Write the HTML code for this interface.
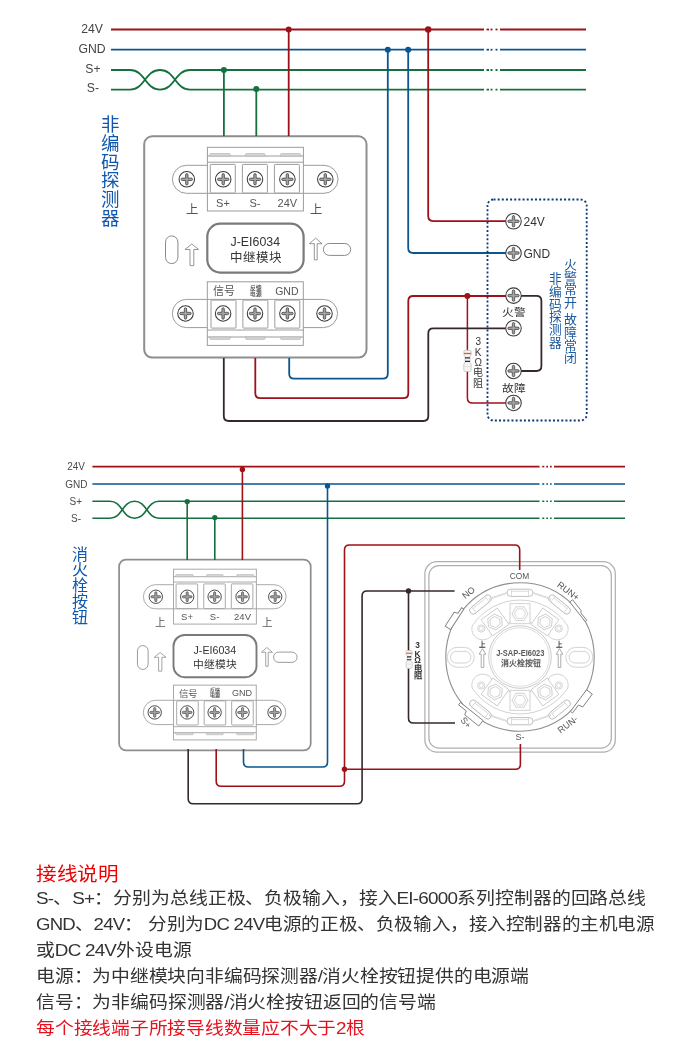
<!DOCTYPE html><html lang="zh-CN"><head><meta charset="utf-8"><style>
html,body{margin:0;padding:0;background:#fff;width:680px;height:1064px;overflow:hidden}
svg{display:block;font-family:"Liberation Sans",sans-serif}
svg,.t{will-change:transform}
.t{position:absolute;left:36px;transform-origin:0 0;white-space:nowrap;font-family:"Liberation Sans",sans-serif;font-size:18px;color:#333}
.L{font-size:17px;letter-spacing:-0.7px}
</style></head><body>
<svg width="680" height="1064" viewBox="0 0 680 1064">
<defs>
<g id="sc"><circle r="7.75" fill="#fff" stroke="#3a3a3a" stroke-width="1.05"/><path d="M-4.5,-1.2 H-1.2 V-4.5 A1.2,1.2 0 0 1 1.2,-4.5 V-1.2 H4.5 A1.2,1.2 0 0 1 4.5,1.2 H1.2 V4.5 A1.2,1.2 0 0 1 -1.2,4.5 V1.2 H-4.5 A1.2,1.2 0 0 1 -4.5,-1.2 Z" fill="#a4a4a4" stroke="#3c3c3c" stroke-width="0.75"/></g>
<g id="mod"><rect x="144.2" y="136.3" width="222.3" height="221.3" rx="8" fill="#fff" stroke="#8e8e8e" stroke-width="2"/>
<rect x="172.4" y="165.3" width="165.6" height="28" rx="14" fill="#fff" stroke="#9c9c9c" stroke-width="1"/>
<rect x="207.4" y="147.3" width="96" height="63.7" fill="#fff" stroke="#9c9c9c" stroke-width="1"/>
<path d="M207.4,156 H303.4 M207.4,162.2 H303.4 M207.4,193.3 H303.4" stroke="#9c9c9c" stroke-width="1" fill="none"/>
<path d="M209.3,156 L210.3,153.5 H229.7 L230.7,156 Z" fill="#d6d6d6" stroke="#b0b0b0" stroke-width="0.6"/>
<path d="M245,156 L246,153.5 H264.5 L265.5,156 Z" fill="#d6d6d6" stroke="#b0b0b0" stroke-width="0.6"/>
<path d="M280,156 L281,153.5 H300 L301,156 Z" fill="#d6d6d6" stroke="#b0b0b0" stroke-width="0.6"/>
<rect x="210.3" y="164.4" width="25" height="28.6" rx="0.8" fill="#fff" stroke="#9c9c9c" stroke-width="1"/>
<rect x="242.4" y="164.4" width="25" height="28.6" rx="0.8" fill="#fff" stroke="#9c9c9c" stroke-width="1"/>
<rect x="274.4" y="164.4" width="25" height="28.6" rx="0.8" fill="#fff" stroke="#9c9c9c" stroke-width="1"/>
<use href="#sc" x="186.8" y="179.3"/>
<use href="#sc" x="223.2" y="179.3"/>
<use href="#sc" x="255" y="179.3"/>
<use href="#sc" x="287.4" y="179.3"/>
<use href="#sc" x="325.3" y="179.3"/>
<g font-size="11" fill="#555" text-anchor="middle"><text x="223" y="206.5">S+</text><text x="255" y="206.5">S-</text><text x="287.4" y="206.5">24V</text></g>
<g font-size="12.3" fill="#555" text-anchor="middle"><text x="192" y="213.6">上</text><text x="315.8" y="213.6">上</text></g>
<rect x="165.5" y="235.9" width="12.4" height="27.7" rx="6.2" fill="none" stroke="#8a8a8a" stroke-width="1"/>
<path d="M191.8,244 L198.6,249.5 H193.8 V265.6 H190 V249.5 H185 Z" fill="none" stroke="#8a8a8a" stroke-width="0.9" stroke-linejoin="miter"/>
<rect x="207.3" y="223.6" width="96.3" height="49" rx="13" fill="#fff" stroke="#7a7a7a" stroke-width="2.2"/>
<text x="255.3" y="246.1" font-size="12" fill="#333" text-anchor="middle" textLength="49.5" lengthAdjust="spacingAndGlyphs">J-EI6034</text>
<text x="255.5" y="262.4" font-size="12.5" fill="#333" text-anchor="middle">中继模块</text>
<path d="M315.7,238.2 L322,243.7 H317.2 V259.9 H314.3 V243.7 H309.3 Z" fill="none" stroke="#8a8a8a" stroke-width="0.9"/>
<rect x="323.4" y="243.5" width="27.3" height="11.9" rx="5.95" fill="none" stroke="#8a8a8a" stroke-width="1"/>
<rect x="172.3" y="299.4" width="165.3" height="28.2" rx="14.1" fill="#fff" stroke="#9c9c9c" stroke-width="1"/>
<rect x="207.3" y="281.8" width="96" height="63.6" fill="#fff" stroke="#9c9c9c" stroke-width="1"/>
<path d="M207.3,299.4 H303.3 M207.3,330 H303.3 M207.3,337 H303.3" stroke="#9c9c9c" stroke-width="1" fill="none"/>
<path d="M209.3,337 L210.3,339.4 H229.7 L230.7,337 Z" fill="#d6d6d6" stroke="#b0b0b0" stroke-width="0.6"/>
<path d="M245,337 L246,339.4 H264.5 L265.5,337 Z" fill="#d6d6d6" stroke="#b0b0b0" stroke-width="0.6"/>
<path d="M280,337 L281,339.4 H300 L301,337 Z" fill="#d6d6d6" stroke="#b0b0b0" stroke-width="0.6"/>
<rect x="211" y="300.1" width="25" height="28" rx="0.8" fill="#fff" stroke="#9c9c9c" stroke-width="1"/>
<rect x="242.9" y="300.1" width="25" height="28" rx="0.8" fill="#fff" stroke="#9c9c9c" stroke-width="1"/>
<rect x="274.8" y="300.1" width="25" height="28" rx="0.8" fill="#fff" stroke="#9c9c9c" stroke-width="1"/>
<use href="#sc" x="185.5" y="313.5"/>
<use href="#sc" x="223.1" y="313.5"/>
<use href="#sc" x="255" y="313.5"/>
<use href="#sc" x="287.4" y="313.5"/>
<use href="#sc" x="324.5" y="313.5"/>
<text x="224" y="295.3" font-size="11" fill="#555" text-anchor="middle">信号</text>
<g font-size="11" font-weight="bold" fill="#555" text-anchor="middle" transform="translate(255.5,0) scale(0.52)"><text x="0" y="557">反馈</text><text x="0" y="569">电源</text></g>
<text x="286.8" y="294.7" font-size="10.5" fill="#555" text-anchor="middle">GND</text></g>
</defs>
<g font-size="12.2" fill="#444" text-anchor="end"><text x="103" y="32.6">24V</text><text x="105.5" y="52.6">GND</text><text x="100.5" y="72.6">S+</text><text x="99" y="92.4">S-</text></g>
<path d="M111,29.5 H484 M500,29.5 H586" fill="none" stroke="#9e1119" stroke-width="1.8"/>
<path d="M486.5,29.5 H489" stroke="#9e1119" stroke-width="1.8"/>
<path d="M490.5,29.5 H492.5" stroke="#9e1119" stroke-width="1.8"/>
<path d="M495.5,29.5 H497.5" stroke="#9e1119" stroke-width="1.8"/>
<path d="M111,49.7 H484 M500,49.7 H586" fill="none" stroke="#0b5690" stroke-width="1.8"/>
<path d="M486.5,49.7 H489" stroke="#0b5690" stroke-width="1.8"/>
<path d="M490.5,49.7 H492.5" stroke="#0b5690" stroke-width="1.8"/>
<path d="M495.5,49.7 H497.5" stroke="#0b5690" stroke-width="1.8"/>
<path d="M111,70 H130 C145,70 145,89.6 160,89.6 C175,89.6 175,70 190,70 H484 M500,70 H586" fill="none" stroke="#14713e" stroke-width="1.8"/>
<path d="M111,89.6 H130 C145,89.6 145,70 160,70 C175,70 175,89.6 190,89.6 H484 M500,89.6 H586" fill="none" stroke="#14713e" stroke-width="1.8"/>
<path d="M486.5,70 H489 M486.5,89.6 H489" stroke="#14713e" stroke-width="1.8"/>
<path d="M490.5,70 H492.5 M490.5,89.6 H492.5" stroke="#14713e" stroke-width="1.8"/>
<path d="M495.5,70 H497.5 M495.5,89.6 H497.5" stroke="#14713e" stroke-width="1.8"/>
<use href="#mod"/>
<path d="M223.9,70 V136" fill="none" stroke="#14713e" stroke-width="1.8" stroke-linejoin="round"/>
<circle cx="223.9" cy="70" r="3" fill="#14713e"/>
<path d="M256.3,89.6 V136" fill="none" stroke="#14713e" stroke-width="1.8" stroke-linejoin="round"/>
<circle cx="256.3" cy="89" r="3" fill="#14713e"/>
<path d="M288.7,29.5 V136" fill="none" stroke="#9e1119" stroke-width="1.8" stroke-linejoin="round"/>
<circle cx="288.7" cy="29.5" r="3" fill="#9e1119"/>
<path d="M387.8,49.7 V373.7 Q387.8,378.7 382.8,378.7 H294.2 Q289.2,378.7 289.2,373.7 V358" fill="none" stroke="#0b5690" stroke-width="1.8" stroke-linejoin="round"/>
<circle cx="387.8" cy="49.7" r="3" fill="#0b5690"/>
<path d="M408.2,49.7 V248 Q408.2,253 413.2,253 H506" fill="none" stroke="#0b5690" stroke-width="1.8" stroke-linejoin="round"/>
<circle cx="408.2" cy="49.7" r="3" fill="#0b5690"/>
<path d="M428.2,29.5 V216.1 Q428.2,221.1 433.2,221.1 H506" fill="none" stroke="#9e1119" stroke-width="1.8" stroke-linejoin="round"/>
<circle cx="428.2" cy="29.4" r="3.2" fill="#9e1119"/>
<path d="M255.3,358 V393.2 Q255.3,398.2 260.3,398.2 H403.3 Q408.3,398.2 408.3,393.2 V301 Q408.3,296 413.3,296 H506" fill="none" stroke="#9e1119" stroke-width="1.8" stroke-linejoin="round"/>
<circle cx="467.4" cy="296" r="3" fill="#9e1119"/>
<path d="M467.4,296 V397.9 Q467.4,402.9 472.4,402.9 H506" fill="none" stroke="#9e1119" stroke-width="1.5" stroke-linejoin="round"/>
<path d="M223.8,358 V416 Q223.8,421 228.8,421 H423.3 Q428.3,421 428.3,416 V333.3 Q428.3,328.3 433.3,328.3 H506" fill="none" stroke="#362828" stroke-width="1.8" stroke-linejoin="round"/>
<path d="M520,295.8 H536.4 Q541.4,295.8 541.4,300.8 V366 Q541.4,371 536.4,371 H520" fill="none" stroke="#362828" stroke-width="1.8" stroke-linejoin="round"/>
<g transform="translate(467.5,372)"><path d="M-3.7,-20.5 Q-3.7,-21.7 -2.5,-21.7 H2.5 Q3.7,-21.7 3.7,-20.5 V-17 Q2.5,-16 2.5,-15 V-10 Q2.5,-9 3.7,-8 V-1.7 Q3.7,-0.5 2.5,-0.5 H-2.5 Q-3.7,-0.5 -3.7,-1.7 V-8 Q-2.5,-9 -2.5,-10 V-15 Q-2.5,-16 -3.7,-17 Z" fill="#f4f4f4" stroke="#c4c4c4" stroke-width="0.8"/><path d="M-3.5,-18.5 H3.5" stroke="#f05a1e" stroke-width="1.3"/><path d="M-2.5,-14.2 H2.5 M-2.5,-10.7 H2.5" stroke="#2a2a2a" stroke-width="1.2"/><path d="M-3,-5.5 H3" stroke="#dcdcdc" stroke-width="0.8"/></g>
<g font-size="10" fill="#333" text-anchor="middle"><text x="478.2" y="344.6">3</text><text x="478.2" y="355.5">K</text><text x="478.2" y="365.6">Ω</text><text x="478.3" y="376.2">电</text><text x="478.3" y="387">阻</text></g>
<rect x="487.5" y="199.5" width="99.2" height="221" rx="6" fill="none" stroke="#0b3a73" stroke-width="1.8" stroke-dasharray="2 2.15"/>
<use href="#sc" x="513.5" y="221.3"/>
<use href="#sc" x="513.5" y="253"/>
<use href="#sc" x="513.5" y="295.6"/>
<use href="#sc" x="513.5" y="328.3"/>
<use href="#sc" x="513.5" y="371"/>
<use href="#sc" x="513.5" y="402.9"/>
<g font-size="12" fill="#333"><text x="523.5" y="225.8">24V</text><text x="523.5" y="257.5">GND</text></g>
<g font-size="10.5" fill="#333" text-anchor="middle"><text transform="translate(514,315.5) scale(1.12,1)">火警</text><text transform="translate(514,392.2) scale(1.12,1)">故障</text></g>
<g font-size="12.7" fill="#1b5a9e" text-anchor="middle" font-weight="500"><text x="555.6" y="283.3">非</text><text x="555.6" y="295.9">编</text><text x="555.6" y="308.6">码</text><text x="555.6" y="321.2">探</text><text x="555.6" y="333.9">测</text><text x="555.6" y="346.5">器</text></g>
<g font-size="12.9" fill="#1b5a9e" text-anchor="middle" font-weight="500"><text x="570.8" y="269.0">火</text><text x="570.8" y="281.6">警</text><text x="570.8" y="294.2">常</text><text x="570.8" y="306.8">开</text><text x="570.8" y="324.4">故</text><text x="570.8" y="337.0">障</text><text x="570.8" y="349.6">常</text><text x="570.8" y="362.2">闭</text></g>
<g font-size="18.5" fill="#1058ae" text-anchor="middle" font-weight="500"><text x="110.4" y="131.2">非</text><text x="110.4" y="149.9">编</text><text x="110.4" y="168.7">码</text><text x="110.4" y="187.4">探</text><text x="110.4" y="206.2">测</text><text x="110.4" y="224.9">器</text></g>
<g font-size="10" fill="#4a4a4a" text-anchor="end"><text x="85" y="470">24V</text><text x="87.5" y="487.6">GND</text><text x="82" y="504.8">S+</text><text x="81" y="521.8">S-</text></g>
<path d="M92.4,466.6 H539.5 M554,466.6 H625" fill="none" stroke="#9e1119" stroke-width="1.6"/>
<path d="M542.2,466.6 H544.3" stroke="#9e1119" stroke-width="1.6"/>
<path d="M546.3,466.6 H548" stroke="#9e1119" stroke-width="1.6"/>
<path d="M550,466.6 H551.7" stroke="#9e1119" stroke-width="1.6"/>
<path d="M92.4,484 H539.5 M554,484 H625" fill="none" stroke="#0b5690" stroke-width="1.6"/>
<path d="M542.2,484 H544.3" stroke="#0b5690" stroke-width="1.6"/>
<path d="M546.3,484 H548" stroke="#0b5690" stroke-width="1.6"/>
<path d="M550,484 H551.7" stroke="#0b5690" stroke-width="1.6"/>
<path d="M92.4,501.3 H110 C122.3,501.3 122.3,518.3 134.5,518.3 C146.8,518.3 146.8,501.3 159,501.3 H539.5 M554,501.3 H625" fill="none" stroke="#14713e" stroke-width="1.6"/>
<path d="M92.4,518.3 H110 C122.3,518.3 122.3,501.3 134.5,501.3 C146.8,501.3 146.8,518.3 159,518.3 H539.5 M554,518.3 H625" fill="none" stroke="#14713e" stroke-width="1.6"/>
<path d="M542.2,501.3 H544.3 M542.2,518.3 H544.3" stroke="#14713e" stroke-width="1.6"/>
<path d="M546.3,501.3 H548 M546.3,518.3 H548" stroke="#14713e" stroke-width="1.6"/>
<path d="M550,501.3 H551.7 M550,518.3 H551.7" stroke="#14713e" stroke-width="1.6"/>
<use href="#mod" transform="translate(-5.2,442.2) scale(0.862)"/>
<g fill="none" stroke="#b0b0b0" stroke-width="1.25"><rect x="424.9" y="561.7" width="190.4" height="190.4" rx="12"/><rect x="428.9" y="565.7" width="182.4" height="182.4" rx="10"/></g>
<g transform="translate(520,657)"><circle r="74.2" fill="#fff" stroke="#8e8e8e" stroke-width="1.1"/><path transform="translate(-62.76,-37.64) rotate(-57.1)" d="M-12.2,0.0 L-12.2,-6.4 L4.2,-6.4 L5.5,-2.7 L12.2,-2.7 L12.2,0.0 Z" fill="#fff" stroke="#808080" stroke-width="0.9" stroke-linejoin="miter"/><path transform="translate(57.48,-45.23) rotate(51.8)" d="M-12.5,0.0 L-12.5,-3.6 L1.5,-3.6 L2.7,-2.0 L12.5,-2.0 L12.5,0.0 Z" fill="#fff" stroke="#808080" stroke-width="0.9" stroke-linejoin="miter"/><path transform="translate(-48.22,54.50) rotate(218.5)" d="M-14.5,0.0 L-14.5,-7.0 L3.5,-7.0 L4.7,-3.0 L14.5,-3.0 L14.5,0.0 Z" fill="#fff" stroke="#808080" stroke-width="0.9" stroke-linejoin="miter"/><path transform="translate(58.50,43.60) rotate(126.7)" d="M-13.5,0.0 L-13.5,-7.2 L2.5,-7.2 L3.7,-2.6 L13.5,-2.6 L13.5,0.0 Z" fill="#fff" stroke="#808080" stroke-width="0.9" stroke-linejoin="miter"/><rect x="-72.8" y="-9.6" width="27" height="19.8" rx="9.9" fill="none" stroke="#cdcdcd" stroke-width="0.9"/><rect x="-69.5" y="-5.6" width="20.4" height="11.6" rx="5.8" fill="none" stroke="#cdcdcd" stroke-width="0.9"/><rect x="45.8" y="-9.6" width="27" height="19.8" rx="9.9" fill="none" stroke="#cdcdcd" stroke-width="0.9"/><rect x="49.1" y="-5.6" width="20.4" height="11.6" rx="5.8" fill="none" stroke="#cdcdcd" stroke-width="0.9"/><path d="M-47.8,-31.0 A57,57 0 0 1 47.8,-31.0 A11,11 0 0 1 30.2,-19.6 A36,36 0 0 0 -30.2,-19.6 A11,11 0 0 1 -47.8,-31.0 Z" fill="none" stroke="#cdcdcd" stroke-width="0.9"/><circle cx="-38.8" cy="-28.5" r="3.6" fill="#fff" stroke="#cdcdcd" stroke-width="0.9"/><circle cx="-38.8" cy="-28.5" r="2.1" fill="none" stroke="#cdcdcd" stroke-width="0.7"/><circle cx="38.8" cy="-28.5" r="3.6" fill="#fff" stroke="#cdcdcd" stroke-width="0.9"/><circle cx="38.8" cy="-28.5" r="2.1" fill="none" stroke="#cdcdcd" stroke-width="0.7"/><g transform="translate(0,-43.3) rotate(0.0)"><rect x="-10" y="-10" width="20" height="20" fill="#fff" stroke="#cdcdcd" stroke-width="0.9"/><polygon points="-8,0 -4,-6.9 4,-6.9 8,0 4,6.9 -4,6.9" fill="none" stroke="#cdcdcd" stroke-width="0.9"/><polygon points="-5.6,0 -2.8,-4.8 2.8,-4.8 5.6,0 2.8,4.8 -2.8,4.8" fill="none" stroke="#cdcdcd" stroke-width="0.8"/></g><g transform="translate(-25,-35) rotate(-35.5)"><rect x="-10" y="-10" width="20" height="20" fill="#fff" stroke="#cdcdcd" stroke-width="0.9"/><polygon points="-8,0 -4,-6.9 4,-6.9 8,0 4,6.9 -4,6.9" fill="none" stroke="#cdcdcd" stroke-width="0.9"/><polygon points="-5.6,0 -2.8,-4.8 2.8,-4.8 5.6,0 2.8,4.8 -2.8,4.8" fill="none" stroke="#cdcdcd" stroke-width="0.8"/></g><g transform="translate(25,-35) rotate(35.5)"><rect x="-10" y="-10" width="20" height="20" fill="#fff" stroke="#cdcdcd" stroke-width="0.9"/><polygon points="-8,0 -4,-6.9 4,-6.9 8,0 4,6.9 -4,6.9" fill="none" stroke="#cdcdcd" stroke-width="0.9"/><polygon points="-5.6,0 -2.8,-4.8 2.8,-4.8 5.6,0 2.8,4.8 -2.8,4.8" fill="none" stroke="#cdcdcd" stroke-width="0.8"/></g><g transform="translate(0,-64.2) rotate(0)"><rect x="-13" y="-3.6" width="26" height="7.2" rx="3.6" fill="#fff" stroke="#b8b8b8" stroke-width="0.9"/><path d="M-8.5,-3.4 V3.4 M8.5,-3.4 V3.4 M-8.5,-1.6 H8.5" fill="none" stroke="#cdcdcd" stroke-width="0.7"/></g><g transform="translate(-39.5,-52.5) rotate(-39)"><rect x="-13" y="-3.6" width="26" height="7.2" rx="3.6" fill="#fff" stroke="#b8b8b8" stroke-width="0.9"/><path d="M-8.5,-3.4 V3.4 M8.5,-3.4 V3.4 M-8.5,-1.6 H8.5" fill="none" stroke="#cdcdcd" stroke-width="0.7"/></g><g transform="translate(39.5,-52.5) rotate(39)"><rect x="-13" y="-3.6" width="26" height="7.2" rx="3.6" fill="#fff" stroke="#b8b8b8" stroke-width="0.9"/><path d="M-8.5,-3.4 V3.4 M8.5,-3.4 V3.4 M-8.5,-1.6 H8.5" fill="none" stroke="#cdcdcd" stroke-width="0.7"/></g><path d="M-12.5,-64.2 L-31,-58 M12.5,-64.2 L31,-58" stroke="#c8c8c8" stroke-width="1.6" fill="none"/><path d="M-12.5,-64.2 L-31,-58 M12.5,-64.2 L31,-58" stroke="#fff" stroke-width="0.5" fill="none"/><path d="M-47.8,31.0 A57,57 0 0 0 47.8,31.0 A11,11 0 0 0 30.2,19.6 A36,36 0 0 1 -30.2,19.6 A11,11 0 0 0 -47.8,31.0 Z" fill="none" stroke="#cdcdcd" stroke-width="0.9"/><circle cx="-38.8" cy="28.5" r="3.6" fill="#fff" stroke="#cdcdcd" stroke-width="0.9"/><circle cx="-38.8" cy="28.5" r="2.1" fill="none" stroke="#cdcdcd" stroke-width="0.7"/><circle cx="38.8" cy="28.5" r="3.6" fill="#fff" stroke="#cdcdcd" stroke-width="0.9"/><circle cx="38.8" cy="28.5" r="2.1" fill="none" stroke="#cdcdcd" stroke-width="0.7"/><g transform="translate(0,43.3) rotate(0.0)"><rect x="-10" y="-10" width="20" height="20" fill="#fff" stroke="#cdcdcd" stroke-width="0.9"/><polygon points="-8,0 -4,-6.9 4,-6.9 8,0 4,6.9 -4,6.9" fill="none" stroke="#cdcdcd" stroke-width="0.9"/><polygon points="-5.6,0 -2.8,-4.8 2.8,-4.8 5.6,0 2.8,4.8 -2.8,4.8" fill="none" stroke="#cdcdcd" stroke-width="0.8"/></g><g transform="translate(-25,35) rotate(35.5)"><rect x="-10" y="-10" width="20" height="20" fill="#fff" stroke="#cdcdcd" stroke-width="0.9"/><polygon points="-8,0 -4,-6.9 4,-6.9 8,0 4,6.9 -4,6.9" fill="none" stroke="#cdcdcd" stroke-width="0.9"/><polygon points="-5.6,0 -2.8,-4.8 2.8,-4.8 5.6,0 2.8,4.8 -2.8,4.8" fill="none" stroke="#cdcdcd" stroke-width="0.8"/></g><g transform="translate(25,35) rotate(-35.5)"><rect x="-10" y="-10" width="20" height="20" fill="#fff" stroke="#cdcdcd" stroke-width="0.9"/><polygon points="-8,0 -4,-6.9 4,-6.9 8,0 4,6.9 -4,6.9" fill="none" stroke="#cdcdcd" stroke-width="0.9"/><polygon points="-5.6,0 -2.8,-4.8 2.8,-4.8 5.6,0 2.8,4.8 -2.8,4.8" fill="none" stroke="#cdcdcd" stroke-width="0.8"/></g><g transform="translate(0,64.2) rotate(0)"><rect x="-13" y="-3.6" width="26" height="7.2" rx="3.6" fill="#fff" stroke="#b8b8b8" stroke-width="0.9"/><path d="M-8.5,-3.4 V3.4 M8.5,-3.4 V3.4 M-8.5,-1.6 H8.5" fill="none" stroke="#cdcdcd" stroke-width="0.7"/></g><g transform="translate(-39.5,52.5) rotate(39)"><rect x="-13" y="-3.6" width="26" height="7.2" rx="3.6" fill="#fff" stroke="#b8b8b8" stroke-width="0.9"/><path d="M-8.5,-3.4 V3.4 M8.5,-3.4 V3.4 M-8.5,-1.6 H8.5" fill="none" stroke="#cdcdcd" stroke-width="0.7"/></g><g transform="translate(39.5,52.5) rotate(-39)"><rect x="-13" y="-3.6" width="26" height="7.2" rx="3.6" fill="#fff" stroke="#b8b8b8" stroke-width="0.9"/><path d="M-8.5,-3.4 V3.4 M8.5,-3.4 V3.4 M-8.5,-1.6 H8.5" fill="none" stroke="#cdcdcd" stroke-width="0.7"/></g><path d="M-12.5,64.2 L-31,58 M12.5,64.2 L31,58" stroke="#c8c8c8" stroke-width="1.6" fill="none"/><path d="M-12.5,64.2 L-31,58 M12.5,64.2 L31,58" stroke="#fff" stroke-width="0.5" fill="none"/><circle r="31.3" fill="#fff" stroke="#c4c4c4" stroke-width="0.9"/><circle r="29.3" fill="none" stroke="#cfcfcf" stroke-width="0.7"/><path d="M-37.5,-8.3 L-34.2,-2.8 H-36.2 V10.4 H-38.8 V-2.8 H-40.8 Z" fill="#fff" stroke="#8a8a8a" stroke-width="0.7"/><text x="-37.5" y="-10.3" font-size="6.5" font-weight="bold" fill="#333" text-anchor="middle">上</text><path d="M39.5,-8.3 L42.8,-2.8 H40.8 V10.4 H38.2 V-2.8 H36.2 Z" fill="#fff" stroke="#8a8a8a" stroke-width="0.7"/><text x="39.5" y="-10.3" font-size="6.5" font-weight="bold" fill="#333" text-anchor="middle">上</text></g>
<text x="520.3" y="656.4" font-size="9" font-weight="bold" fill="#5a5a5a" text-anchor="middle" textLength="48.3" lengthAdjust="spacingAndGlyphs">J-SAP-EI6023</text>
<text x="520.6" y="665.6" font-size="8" font-weight="bold" fill="#5a5a5a" text-anchor="middle" textLength="39.7" lengthAdjust="spacingAndGlyphs">消火栓按钮</text>
<g font-size="9" fill="#555" text-anchor="middle"><text x="519.4" y="578.9" textLength="19.5" lengthAdjust="spacingAndGlyphs">COM</text><text x="520" y="740">S-</text></g>
<g font-size="9" fill="#555" text-anchor="middle"><text transform="translate(470.5,595) rotate(-39)">NO</text><text transform="translate(566.5,593.5) rotate(37)">RUN+</text><text transform="translate(463.5,724.5) rotate(50)">S+</text><text transform="translate(569.5,727) rotate(-37)">RUN-</text></g>
<path d="M187.2,501.3 V560" fill="none" stroke="#14713e" stroke-width="1.6" stroke-linejoin="round"/>
<circle cx="187.2" cy="501.6" r="2.7" fill="#14713e"/>
<path d="M214.8,518.3 V560" fill="none" stroke="#14713e" stroke-width="1.6" stroke-linejoin="round"/>
<circle cx="214.8" cy="517.6" r="2.7" fill="#14713e"/>
<path d="M242.4,466.6 V560" fill="none" stroke="#9e1119" stroke-width="1.6" stroke-linejoin="round"/>
<circle cx="242.4" cy="469.5" r="2.7" fill="#9e1119"/>
<path d="M327.5,484 V762 Q327.5,767 322.5,767 H248.5 Q243.5,767 243.5,762 V749" fill="none" stroke="#0b5690" stroke-width="1.6" stroke-linejoin="round"/>
<circle cx="327.5" cy="486" r="2.7" fill="#0b5690"/>
<path d="M216.2,749 V781.2 Q216.2,786.2 221.2,786.2 H339.5 Q344.5,786.2 344.5,781.2 V550 Q344.5,545 349.5,545 H514.7 Q519.7,545 519.7,550 V570" fill="none" stroke="#9e1119" stroke-width="1.6" stroke-linejoin="round"/>
<circle cx="344.5" cy="769.3" r="2.7" fill="#9e1119"/>
<path d="M344.5,769.3 H515.4 Q520.4,769.3 520.4,764.3 V744" fill="none" stroke="#9e1119" stroke-width="1.6" stroke-linejoin="round"/>
<path d="M188.2,749 V798.7 Q188.2,803.7 193.2,803.7 H357.1 Q362.1,803.7 362.1,798.7 V596 Q362.1,591 367.1,591 H454.6" fill="none" stroke="#362828" stroke-width="1.6" stroke-linejoin="round"/>
<circle cx="408.5" cy="591" r="2.7" fill="#362828"/>
<path d="M408.5,591 V718 Q408.5,723 413.5,723 H455" fill="none" stroke="#362828" stroke-width="1.6" stroke-linejoin="round"/>
<g transform="translate(409.1,668.8) scale(0.84)"><path d="M-3.7,-20.5 Q-3.7,-21.7 -2.5,-21.7 H2.5 Q3.7,-21.7 3.7,-20.5 V-17 Q2.5,-16 2.5,-15 V-10 Q2.5,-9 3.7,-8 V-1.7 Q3.7,-0.5 2.5,-0.5 H-2.5 Q-3.7,-0.5 -3.7,-1.7 V-8 Q-2.5,-9 -2.5,-10 V-15 Q-2.5,-16 -3.7,-17 Z" fill="#f4f4f4" stroke="#c4c4c4" stroke-width="0.8"/><path d="M-3.5,-18.5 H3.5" stroke="#f05a1e" stroke-width="1.3"/><path d="M-2.5,-14.2 H2.5 M-2.5,-10.7 H2.5" stroke="#2a2a2a" stroke-width="1.2"/><path d="M-3,-5.5 H3" stroke="#dcdcdc" stroke-width="0.8"/></g>
<g font-size="8.3" font-weight="bold" fill="#333" text-anchor="middle"><text x="417.6" y="648.4">3</text><text x="417.6" y="656.6">K</text><text x="417.6" y="663.4">Ω</text><text x="417.6" y="670.5">电</text><text x="417.6" y="677.6">阻</text></g>
<g font-size="16" fill="#1058ae" text-anchor="middle" font-weight="500"><text x="79.7" y="559.5">消</text><text x="79.7" y="575.3">火</text><text x="79.7" y="591.1">栓</text><text x="79.7" y="606.9">按</text><text x="79.7" y="622.7">钮</text></g>
</svg>
<div class="t" style="top:865.22px;font-size:19px;color:#ee0000;line-height:19px;font-weight:500;transform:scaleX(1.085)">接线说明</div>
<div class="t" style="top:890.24px;font-size:17px;color:#333;line-height:17px;font-weight:400;transform:scaleX(1.111)"><span class="L">S-</span>、<span class="L">S+</span>：分别为总线正极、负极输入，接入<span class="L">EI-6000</span>系列控制器的回路总线</div>
<div class="t" style="top:916.14px;font-size:17px;color:#333;line-height:17px;font-weight:400;transform:scaleX(1.093)"><span class="L">GND</span>、<span class="L">24V</span>： 分别为<span class="L">DC 24V</span>电源的正极、负极输入，接入控制器的主机电源</div>
<div class="t" style="top:942.04px;font-size:17px;color:#333;line-height:17px;font-weight:400;transform:scaleX(1.108)">或<span class="L">DC 24V</span>外设电源</div>
<div class="t" style="top:968.14px;font-size:17px;color:#333;line-height:17px;font-weight:400;transform:scaleX(1.105)">电源：为中继模块向非编码探测器<span class="L">/</span>消火栓按钮提供的电源端</div>
<div class="t" style="top:993.94px;font-size:17px;color:#333;line-height:17px;font-weight:400;transform:scaleX(1.107)">信号：为非编码探测器<span class="L">/</span>消火栓按钮返回的信号端</div>
<div class="t" style="top:1019.84px;font-size:17px;color:#e8101c;line-height:17px;font-weight:400;transform:scaleX(1.103)">每个接线端子所接导线数量应不大于<span class="L">2</span>根</div>
</body></html>
